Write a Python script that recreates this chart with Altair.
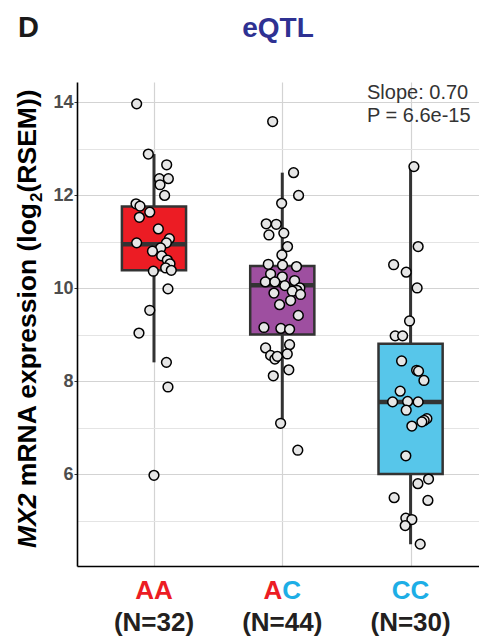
import altair as alt
import pandas as pd

# ---- genotype groups -------------------------------------------------------
groups = ["AA", "AC", "CC"]
allele1 = ["A", "A", "C"]
allele2 = ["A", "C", "C"]
n_samples = [32, 44, 30]
box_fill = ["#EC1C24", "#9E4FA0", "#57C6EA"]

# box statistics (log2 RSEM)
q1 = [10.39, 9.01, 6.01]
median = [10.95, 10.07, 7.56]
q3 = [11.76, 10.48, 8.81]
whisker_lo = [8.41, 7.10, 4.50]
whisker_hi = [12.89, 12.49, 12.62]

# ---- individual samples: expression and horizontal jitter -----------------
aa_expr = [13.97, 12.89, 12.66, 12.36, 12.36, 12.23, 12.00, 11.82, 11.77, 11.64,
           11.53, 11.28, 10.98, 11.07, 10.98, 10.87, 10.80, 10.70, 10.61, 10.53,
           10.44, 10.39, 10.37, 9.99, 9.53, 9.04, 8.41, 7.88, 5.98]
aa_jitter = [-0.135, -0.044, 0.099, 0.042, 0.112, 0.047, 0.083, -0.140, -0.109, -0.033,
             -0.114, 0.034, -0.135, 0.120, 0.097, 0.052, -0.012, 0.060, 0.104, 0.125,
             0.091, 0.135, -0.005, 0.109, -0.033, -0.117, 0.097, 0.109, 0.0]

ac_expr = [13.59, 12.49, 12.00, 11.83, 11.39, 11.38, 11.15, 11.19, 10.90, 10.72,
           10.52, 10.50, 10.47, 10.31, 10.25, 10.17, 10.14, 10.14, 10.06, 10.01,
           9.96, 9.94, 9.90, 9.87, 9.74, 9.65, 9.42, 9.16, 9.14, 9.12,
           8.72, 8.79, 8.56, 8.48, 8.54, 8.59, 8.25, 8.12, 7.10, 6.52]
ac_jitter = [-0.075, 0.088, 0.127, -0.005, -0.125, -0.047, -0.104, 0.012, 0.041, -0.003,
             -0.109, 0.002, 0.111, -0.091, 0.0, 0.096, -0.132, -0.058, 0.020, 0.137,
             0.114, 0.078, -0.065, 0.142, 0.065, -0.021, 0.125, -0.143, -0.011, 0.057,
             -0.130, 0.057, -0.091, -0.058, -0.039, 0.039, 0.051, -0.070, -0.013, 0.121]

cc_expr = [12.62, 10.90, 10.51, 10.35, 10.01, 9.30, 8.98, 8.98, 8.44, 8.24,
           8.22, 8.02, 7.79, 7.56, 7.57, 7.56, 7.38, 7.20, 7.16, 7.13,
           7.04, 6.40, 5.90, 5.80, 5.50, 5.44, 5.06, 5.03, 4.90, 4.50]
cc_jitter = [0.026, 0.059, -0.132, -0.034, 0.051, -0.008, -0.120, -0.062, -0.070, 0.047,
             0.062, 0.104, -0.081, -0.140, -0.023, 0.059, -0.034, 0.127, 0.106, 0.088,
             0.010, -0.037, 0.140, 0.057, -0.128, 0.135, -0.037, 0.010, -0.042, 0.075]

slope_text = "Slope: 0.70"
p_text = "P = 6.6e-15"

# ---- tables ----------------------------------------------------------------
BOX_HALF = 0.25
box_df = pd.DataFrame({
    "group": groups,
    "pos": [1, 2, 3],
    "q1": q1, "median": median, "q3": q3,
    "lo": whisker_lo, "hi": whisker_hi,
    "fill": box_fill,
    "a1": allele1, "a2": allele2,
    "c1": ["#EC1C24" if a == "A" else "#1DAEE6" for a in allele1],
    "c2": ["#EC1C24" if a == "A" else "#1DAEE6" for a in allele2],
    "nlab": [f"(N={n})" for n in n_samples],
})
box_df["x_lo"] = box_df["pos"] - BOX_HALF
box_df["x_hi"] = box_df["pos"] + BOX_HALF

rows = []
for gi, (expr, jit) in enumerate([(aa_expr, aa_jitter), (ac_expr, ac_jitter), (cc_expr, cc_jitter)]):
    for v, j in zip(expr, jit):
        rows.append({"group": groups[gi], "xpos": gi + 1 + j, "expr": v})
pts_df = pd.DataFrame(rows)

W, H = 402, 484
FONT = "Liberation Sans"

x_scale = alt.Scale(domain=[0.4, 0.4 + W / 128.3], nice=False, zero=False)
y_scale = alt.Scale(domain=[4.03, 14.44], nice=False, zero=False)

even = "datum.value % 2 === 0"
y_axis = alt.Axis(
    values=list(range(5, 15)),
    labelExpr=f"{even} ? datum.label : ''",
    title=None,
    grid=True,
    gridColor={"condition": {"test": even, "value": "#D3D3D3"}, "value": "#E4E4E4"},
    gridWidth=1.2,
    tickColor={"condition": {"test": even, "value": "#333333"}, "value": "transparent"},
    tickSize=3,
    labelPadding=1,
    labelFont=FONT, labelFontSize=18, labelFontWeight="bold", labelColor="#4D4D4D",
    domainColor="#000000", domainWidth=1.6,
)
x_axis = alt.Axis(
    values=[1, 2, 3], labels=False, ticks=False, title=None,
    grid=True, gridColor="#D3D3D3", gridWidth=1.2,
    domainColor="#000000", domainWidth=1.6,
)

base_box = alt.Chart(box_df)

whiskers = base_box.mark_rule(color="#333333", strokeWidth=3).encode(
    x=alt.X("pos:Q", scale=x_scale, axis=x_axis),
    y=alt.Y("lo:Q", scale=y_scale, axis=y_axis),
    y2="hi:Q",
)

boxes = base_box.mark_rect(stroke="#333333", strokeWidth=2.5).encode(
    x="x_lo:Q", x2="x_hi:Q",
    y="q1:Q", y2="q3:Q",
    fill=alt.Fill("fill:N", scale=None),
)

medians = base_box.mark_rule(color="#333333", strokeWidth=4.5, strokeCap="butt").encode(
    x="x_lo:Q", x2="x_hi:Q", y="median:Q",
)

points = alt.Chart(pts_df).mark_point(
    filled=False, fill="#E6E6E6", fillOpacity=1, stroke="#000000",
    strokeWidth=1.5, size=95, opacity=1,
).encode(x="xpos:Q", y="expr:Q")

# genotype labels under the axis, each allele coloured separately
LAB_SIZE = 26
lab1 = base_box.mark_text(font=FONT, fontSize=LAB_SIZE, fontWeight="bold", align="right",
                          baseline="middle").encode(
    x="pos:Q", y=alt.value(509), text="a1:N", color=alt.Color("c1:N", scale=None))
lab2 = base_box.mark_text(font=FONT, fontSize=LAB_SIZE, fontWeight="bold", align="left",
                          baseline="middle").encode(
    x="pos:Q", y=alt.value(509), text="a2:N", color=alt.Color("c2:N", scale=None))
nlab = base_box.mark_text(font=FONT, fontSize=LAB_SIZE, fontWeight="bold", align="center",
                          baseline="middle", color="#231F20").encode(
    x="pos:Q", y=alt.value(541), text="nlab:N")


def free_text(txt, x, y, **style):
    """A single text placed in pixel coordinates of the plot area."""
    return alt.Chart(pd.DataFrame({"t": [txt]})).mark_text(**style).encode(
        x=alt.value(x), y=alt.value(y), text="t:N")


# statistics annotation
stat_style = dict(font=FONT, fontSize=20, align="left", baseline="middle", color="#333333")
stats1 = free_text(slope_text, 290, 11, **stat_style)
stats2 = free_text(p_text, 290, 34, **stat_style)

# titles
title = free_text("eQTL", W / 2, -53, font=FONT, fontSize=28, fontWeight="bold",
                  color="#2E3192", align="center", baseline="middle")
panel = free_text("D", -59, -54, font=FONT, fontSize=29, fontWeight="bold",
                  color="#1A1A1A", align="left", baseline="middle")

# rotated y-axis title built from styled pieces (italic gene, subscript 2)
YT_SIZE = 26.5
YT_X = -41
ybase = 466
w_gene = 2.056 * YT_SIZE
w_space = 0.278 * YT_SIZE
w_mid = (11.002 - 0.278) * YT_SIZE
w_sub = 0.556 * 17
y_mid = ybase - w_gene - w_space
y_sub = y_mid - w_mid
y_end = y_sub - w_sub
ytitle_parts = [
    ("MX2", ybase, YT_SIZE, "italic", YT_X),
    ("mRNA expression (log", y_mid, YT_SIZE, "normal", YT_X),
    ("2", y_sub, 17, "normal", YT_X + 6),
    ("(RSEM))", y_end, YT_SIZE, "normal", YT_X),
]
ytitle_layers = [
    free_text(txt, xx, yy, font=FONT, fontSize=fs, fontWeight="bold", fontStyle=style,
              color="#000000", angle=270, align="left", baseline="alphabetic")
    for txt, yy, fs, style, xx in ytitle_parts
]

chart = alt.layer(
    whiskers, boxes, medians, points, lab1, lab2, nlab, stats1, stats2, title, panel,
    *ytitle_layers
).properties(
    width=W, height=H,
    padding={"left": 77, "top": 82, "right": 0, "bottom": 72},
    autosize=alt.AutoSizeParams(type="none"),
    background="white",
).configure_view(stroke="transparent")

chart.save("out.html", embed_options={"renderer": "svg", "actions": False})
